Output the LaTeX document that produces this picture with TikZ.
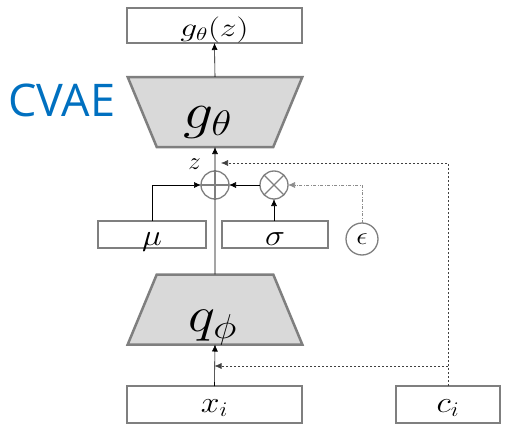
\documentclass[tikz,border=0pt]{standalone}
\usepackage{fontspec}
\usetikzlibrary{shapes.geometric,arrows.meta,positioning}
\definecolor{boxgray}{RGB}{127,127,127}
\definecolor{trapfill}{RGB}{217,217,217}
\definecolor{cvaeblue}{RGB}{0,112,192}
\newfontfamily\cvaefont{Open Sans}
\newcommand{\scaledmath}[3]{\scalebox{#1}[#2]{$#3$}}

\begin{document}
\begin{tikzpicture}[x=1pt, y=-1pt,
    box/.style={rectangle, draw=boxgray, line width=2.8pt, fill=white, inner sep=0pt, outer sep=0pt, text depth=0pt, font=\fontsize{24}{28}\selectfont},
    net/.style={trapezium, draw=boxgray, line width=2.5pt, fill=trapfill, trapezium angle=63.5, trapezium stretches=true, minimum width=175pt, minimum height=70pt, inner sep=0pt, outer sep=0pt, text width=20pt, text height=10pt, text depth=0pt},
    nettext/.style={anchor=base, inner sep=0pt, font=\fontsize{24}{28}\selectfont},
    op/.style={circle, draw=boxgray, line width=1.3pt, minimum size=28pt, inner sep=0pt, outer sep=0pt},
    flow/.style={-{Latex[length=7pt,width=6pt]}, line width=0.6pt, black},
    cond/.style={flow, dash pattern=on 2.5pt off 1.5pt, black!75},
    noise/.style={flow, dash pattern=on 3pt off 1.5pt on 1pt off 1.5pt, black!45}
]
\useasboundingbox (0,0) rectangle (509,439);

% Title
\node[font=\cvaefont\fontsize{45}{50}\selectfont, text=cvaeblue, anchor=west] (title) at (5,100) {CVAE};

% Decoder
\node[box, minimum width=175pt, minimum height=35pt, text height=22pt] (out) at (214.5,25.5) {\scaledmath{1.35}{1.05}{g_\theta(z)}};
\node[net, shape border rotate=180] (dec) at (215,112) {};
\node[nettext] (dectext) at (208,128) {\scaledmath{2.4}{2.05}{g_\theta}};

% Sampling
\node[op] (plus) at (215,185) {};
\node[op] (times) at (274,185) {};
\draw[boxgray, line width=1.3pt] (plus.west) -- (plus.east) (plus.north) -- (plus.south);
\draw[boxgray, line width=1.3pt] (times.north west) -- (times.south east) (times.north east) -- (times.south west);
\node[font=\fontsize{24}{28}\selectfont] (zlab) at (194.5,164) {$z$};

\node[box, minimum width=108pt, minimum height=27pt, text height=21pt] (mu) at (152,234.5) {\scaledmath{1.35}{1.2}{\mu}};
\node[box, minimum width=106pt, minimum height=27pt, text height=21pt] (sigma) at (275,234.5) {\scaledmath{1.35}{1.2}{\sigma}};
\node[op, minimum size=32pt, font=\fontsize{24}{28}\selectfont] (eps) at (362,239) {\scaledmath{1.15}{1}{\epsilon}};

% Encoder
\node[net] (enc) at (215,309.5) {};
\node[nettext] (enctext) at (213,331) {\scaledmath{2.3}{2}{q_\phi}};
\node[box, minimum width=175pt, minimum height=37pt, text height=15pt] (x) at (214.5,404.5) {\scaledmath{1.35}{1.2}{x_i}};
\node[box, minimum width=104pt, minimum height=37pt, text height=15pt] (c) at (448,404.5) {\scaledmath{1.35}{1.2}{c_i}};

% Connectors
\draw[flow] (dec.north) -- (out.south);
\draw[flow] (plus.north) -- (dec.south);
\draw[line width=0.6pt] (enc.north) -- (plus.south);
\draw[flow] (x.north) -- (enc.south);
\draw[flow] (mu.north) |- (plus.west);
\draw[flow] (times.west) -- (plus.east);
\draw[flow] (sigma.north -| times.south) -- (times.south);
\draw[noise] (eps.north) |- (times.east);

% Condition
\coordinate (cup) at (c.north |- 0,163);
\coordinate (clow) at (c.north |- 0,366);
\draw[cond] (c.north) -- (cup) -- ([xshift=6pt]cup -| dec.south);
\draw[cond] (clow) -- (clow -| x.north);

\end{tikzpicture}
\end{document}
